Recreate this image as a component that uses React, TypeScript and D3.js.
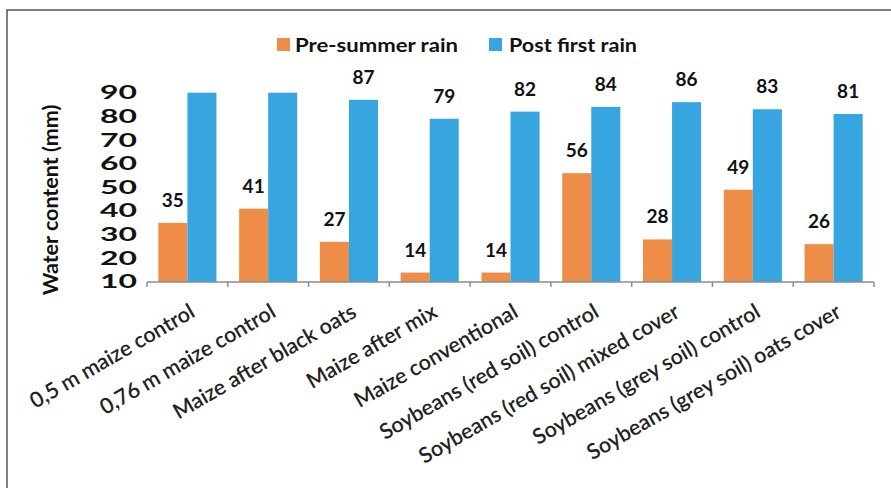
import React from "react";
import * as d3 from "d3";

const categories = [
  "0,5 m maize control",
  "0,76 m maize control",
  "Maize after black oats",
  "Maize after mix",
  "Maize conventional",
  "Soybeans (red soil) control",
  "Soybeans (red soil) mixed cover",
  "Soybeans (grey soil) control",
  "Soybeans (grey soil) oats cover",
];
const seriesNames = ["Pre-summer rain", "Post first rain"];
const preSummer = [35, 41, 27, 14, 14, 56, 28, 49, 26];
// first two post-rain values run past the top of the axis and carry no label
const postFirst = [90, 90, 87, 79, 82, 84, 86, 83, 81];
const postLabelled = [false, false, true, true, true, true, true, true, true];
const yTicks = [10, 20, 30, 40, 50, 60, 70, 80, 90];

const W = 891;
const H = 488;
const COLORS = ["#EE8D47", "#37A6E0"];
const FONT = "Lato, 'Liberation Sans', sans-serif";

export default function App() {
  const x0 = d3.scaleBand<string>().domain(categories).range([147, 874]);
  const x1 = d3
    .scaleBand<string>()
    .domain(seriesNames)
    .range([0, x0.bandwidth()])
    .paddingInner(0)
    .paddingOuter(0.39);
  const y = d3.scaleLinear().domain([10, 90]).range([282, 92.7]);
  const axisY = y(10);
  const series = [preSummer, postFirst];

  const tickXs = categories.map((c) => x0(c)!).concat([x0.range()[1]]);

  return (
    <div style={{ position: "fixed", left: 0, top: 0, width: W, height: H, background: "#fff" }}>
      <svg width={W} height={H} style={{ display: "block" }} fontFamily={FONT}>
        <rect x={0} y={0} width={W} height={H} fill="#fff" />
        {/* frame */}
        <rect x={7} y={10} width={W + 20} height={H + 20} fill="none" stroke="#555" strokeWidth={1.5} />

        {/* legend */}
        <g fontSize={19} fontWeight="bold" fill="#111">
          <rect x={277} y={38} width={13} height={13} fill={COLORS[0]} />
          <text x={295} y={51.5} textLength={163} lengthAdjust="spacingAndGlyphs">
            {seriesNames[0]}
          </text>
          <rect x={489} y={38} width={13} height={13} fill={COLORS[1]} />
          <text x={509} y={51.5} textLength={128} lengthAdjust="spacingAndGlyphs">
            {seriesNames[1]}
          </text>
        </g>

        {/* y axis labels */}
        <g fontSize={18} fontWeight="bold" fill="#111">
          {yTicks.map((t) => (
            <text key={t} x={100} y={y(t)} dy="0.36em" textLength={37} lengthAdjust="spacingAndGlyphs">
              {t}
            </text>
          ))}
        </g>
        <text
          transform={`translate(58,200) rotate(-90)`}
          textAnchor="middle"
          fontSize={21.5}
          fontWeight="bold"
          fill="#111"
        >
          Water content (mm)
        </text>

        {/* bars */}
        {categories.map((c, i) => (
          <g key={c} transform={`translate(${x0(c)},0)`}>
            {series.map((vals, s) => {
              const bx = x1(seriesNames[s])!;
              const v = vals[i];
              return (
                <rect
                  key={s}
                  x={bx}
                  y={y(v)}
                  width={x1.bandwidth()}
                  height={axisY - y(v)}
                  fill={COLORS[s]}
                />
              );
            })}
            {series.map((vals, s) => {
              if (s === 1 && !postLabelled[i]) return null;
              const bx = x1(seriesNames[s])! + x1.bandwidth() / 2;
              return (
                <text
                  key={"l" + s}
                  x={bx}
                  y={y(vals[i]) - 16}
                  textAnchor="middle"
                  fontSize={19}
                  fontWeight="bold"
                  fill="#111"
                >
                  {vals[i]}
                </text>
              );
            })}
          </g>
        ))}

        {/* x axis */}
        <line x1={147} x2={874} y1={axisY} y2={axisY} stroke="#8c8c8c" strokeWidth={1.5} />
        {tickXs.map((tx, i) => (
          <line key={i} x1={tx} x2={tx} y1={axisY} y2={axisY + 5} stroke="#8c8c8c" strokeWidth={1.5} />
        ))}
        <g fontSize={21.5} fontWeight="600" fill="#222" textAnchor="end">
          {categories.map((c) => (
            <text
              key={c}
              transform={`translate(${x0(c)! + x0.bandwidth() / 2 + 9},${axisY + 34}) rotate(-30)`}
            >
              {c}
            </text>
          ))}
        </g>
      </svg>
    </div>
  );
}
